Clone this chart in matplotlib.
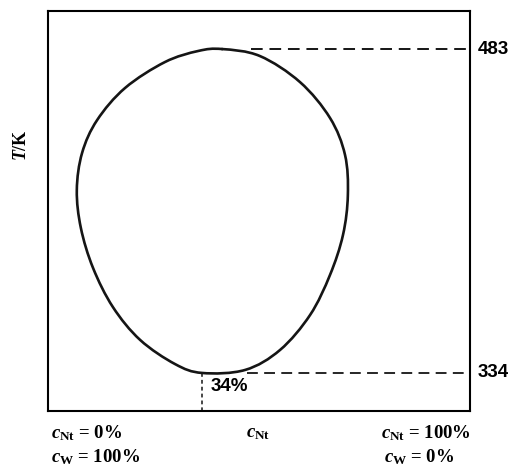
import numpy as np
import matplotlib
matplotlib.use("Agg")
import matplotlib.pyplot as plt
from matplotlib.path import Path
from matplotlib.patches import PathPatch

# closed miscibility loop, read clockwise from the top (x = c_Nt in %, T in K)
loop_x = [38.9, 48.2, 58.1, 65.5, 69.2, 69.9, 68.7, 65.5, 60.6, 53.2, 44.6, 34.0,
          27.3, 18.7, 12.0, 7.1, 4.1, 3.1, 4.4, 8.1, 15.0, 24.8, 33.0]
loop_T = [483.0, 479.8, 467.8, 451.3, 434.3, 415.9, 397.5, 379.1, 360.7, 344.6, 335.4, 334.0,
          338.1, 349.2, 364.3, 382.3, 400.7, 418.1, 435.2, 450.3, 465.1, 477.0, 482.1]

T_upper = 483      # upper critical temperature
T_lower = 334      # lower critical temperature
c_lower = 34       # composition at the lower critical point, %

plt.rcParams['mathtext.fontset'] = 'custom'
plt.rcParams['mathtext.rm'] = 'Liberation Serif:bold'
plt.rcParams['mathtext.it'] = 'Liberation Serif:italic:bold'

fig = plt.figure(figsize=(5.12, 4.68), dpi=100)
ax = fig.add_axes([48 / 512, 57 / 468, 422 / 512, 400 / 468])
ax.set_xlim(-4, 100)
ax.set_ylim(316.5, 500.5)
ax.set_xticks([])
ax.set_yticks([])
for s in ax.spines.values():
    s.set_linewidth(1.5)

# smooth closed curve: Catmull-Rom segments turned into cubic Bezier pieces
P = np.column_stack([loop_x, loop_T])
n = len(P)
verts = [P[0]]
codes = [Path.MOVETO]
for i in range(n):
    p0, p1, p2, p3 = P[i - 1], P[i], P[(i + 1) % n], P[(i + 2) % n]
    verts += [p1 + (p2 - p0) / 6, p2 - (p3 - p1) / 6, p2]
    codes += [Path.CURVE4] * 3
ax.add_patch(PathPatch(Path(verts, codes), fill=False, lw=1.9, ec='#151515',
                       capstyle='round', joinstyle='round'))

# guide lines to the critical points
ax.plot([46, 100], [T_upper, T_upper], ls=(0, (6, 3.5)), lw=1.4, color='#151515')
ax.plot([45, 100], [T_lower, T_lower], ls=(0, (6, 3.5)), lw=1.3, color='#151515')
ax.plot([c_lower, c_lower], [T_lower, 316.5], ls=(0, (2.5, 2)), lw=1.1, color='#151515')

num = dict(fontsize=13.5, fontweight='bold', family='Liberation Sans')
ax.text(c_lower + 2, T_lower - 2.3, f'{c_lower}%', ha='left', va='top', **num)
ax.text(101.8, T_upper, str(T_upper), ha='left', va='center', clip_on=False, **num)
ax.text(101.8, T_lower, str(T_lower), ha='left', va='center', clip_on=False, **num)

fig.text(22 / 512, 1 - 145 / 468, r'$T$/K', rotation=90, ha='center', va='center',
         fontsize=13, fontweight='bold', family='Liberation Serif')

lab = dict(fontsize=13.5, fontweight='bold', family='Liberation Serif', va='center')
fig.text(51 / 512, 1 - 433 / 468, r'$c_{\mathrm{Nt}}$ = 0%', ha='left', **lab)
fig.text(51 / 512, 1 - 457 / 468, r'$c_{\mathrm{W}}$ = 100%', ha='left', **lab)
fig.text(258 / 512, 1 - 433 / 468, r'$c_{\mathrm{Nt}}$', ha='center', **lab)
fig.text(381 / 512, 1 - 433 / 468, r'$c_{\mathrm{Nt}}$ = 100%', ha='left', **lab)
fig.text(384 / 512, 1 - 457 / 468, r'$c_{\mathrm{W}}$ = 0%', ha='left', **lab)

fig.savefig('out.png', dpi=100)
